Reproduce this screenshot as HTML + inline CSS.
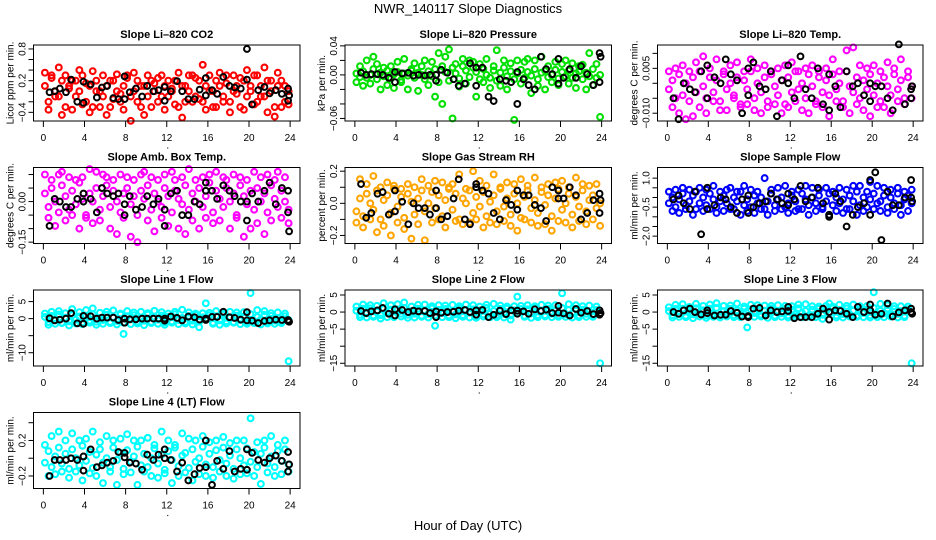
<!DOCTYPE html>
<html><head><meta charset="utf-8"><style>
html,body{margin:0;padding:0;background:#fff}
svg{display:block;font-family:"Liberation Sans",Arial,sans-serif}
</style></head><body>
<svg id="chart" width="936" height="540" viewBox="0 0 936 540">
<text x="468" y="13" text-anchor="middle" font-size="13">NWR_140117  Slope Diagnostics</text>
<text x="468" y="530" text-anchor="middle" font-size="13">Hour of Day (UTC)</text>
</svg>
<script>
const colorHours=[0.15,0.5,0.8,1.15,1.5,1.8,2.15,2.5,2.8,3.15,3.5,3.8,4.15,4.5,4.8,5.15,5.5,5.8,6.15,6.5,6.8,7.15,7.5,7.8,8.15,8.5,8.8,9.15,9.5,9.8,10.15,10.5,10.8,11.15,11.5,11.8,12.15,12.5,12.8,13.15,13.5,13.8,14.15,14.5,14.8,15.15,15.5,15.8,16.15,16.5,16.8,17.15,17.5,17.8,18.15,18.5,18.8,19.15,19.5,19.8,20.15,20.5,20.8,21.15,21.5,21.8,22.15,22.5,22.8,23.15,23.5,23.85];
const blackHours=[0.6,1.1,1.6,2.2,2.7,3.3,3.9,3.9,4.6,5.2,5.7,6.2,6.8,7.3,7.9,7.9,8.4,9.0,9.6,10.1,10.7,11.2,11.8,11.8,12.4,13.0,13.5,14.1,14.7,15.2,15.8,15.8,16.4,16.9,17.5,18.1,18.6,19.2,19.8,19.8,20.3,20.9,21.5,22.0,22.6,23.2,23.8,23.8,23.9];
const xTicks=[0,4,8,12,16,20,24];

const co2Band=[0.1,-0.2,0.3,0.0,-0.1,0.2,-0.3,0.1,0.2,-0.1,0.0,0.3,-0.2,0.1,-0.3,0.2,0.0,-0.1,0.1,-0.3,0.2,0.0,-0.2,0.1,0.3,-0.1,0.0,0.2,-0.3,0.1,-0.1,0.2,0.0,-0.2,0.3,0.1,-0.1,0.0,0.2,-0.3,0.1,-0.2,0.0,0.3,-0.1,0.2,-0.2,0.1,0.0,-0.3,0.2,0.1,-0.1,0.3,-0.2,0.0,0.1,-0.3,0.2,-0.1,0.0,0.3,-0.2,0.1,-0.1,0.2,0.0,-0.3,0.1,0.2,-0.2,0.0];
const co2Spread=[0.35,-0.35,0.25,-0.1,0.45,-0.45,0.3,0.05,-0.35,0.2,0.4,-0.25,0.15,-0.4,0.38,0.0,-0.3,0.3,-0.45,0.2,-0.15,0.32,-0.05,-0.35,0.25,-0.56,0.35,-0.2,0.1,-0.45,0.3,-0.3,0.15,0.25,-0.1,-0.35,0.2,0.05,-0.25,0.35,-0.5,0.1,0.3,-0.2,0.25,-0.15,0.5,-0.35,0.3,0.0,-0.3,0.35,-0.2,0.15,-0.4,0.3,-0.05,0.25,-0.35,0.4,0.1,-0.25,0.3,-0.1,0.45,-0.4,0.2,-0.48,0.35,-0.3,0.1,-0.25];
const co2Black=[-0.02,0.0,0.05,-0.02,0.22,-0.2,0.18,-0.22,0.13,-0.12,0.07,0.1,-0.13,-0.15,0.28,-0.15,-0.02,0.05,-0.1,0.1,0.0,0.02,0.08,-0.18,0.0,0.19,0.0,-0.15,-0.15,0.03,0.25,-0.08,0.02,-0.05,0.27,0.1,0.07,0.05,0.22,0.8,-0.25,0.02,0.08,-0.04,0.02,-0.05,0.05,-0.18,-0.08];

const presBand=[0.002,-0.003,0.005,-0.004,0.0,0.008,-0.006,0.003,-0.002,0.006,-0.005,0.001,0.004,-0.007,0.002,-0.001,0.006,-0.004,0.003,0.0,-0.006,0.005,-0.002,0.008,-0.01,0.012,0.004,-0.008,0.01,0.002,-0.005,0.012,0.006,-0.003,0.01,0.004,-0.006,0.008,0.0,-0.004,0.006,-0.008,0.003,0.01,-0.002,0.005,-0.006,0.002,0.007,-0.004,0.004,-0.001,0.008,-0.006,0.003,0.006,-0.003,0.0,0.007,-0.005,0.004,-0.002,0.006,-0.004,0.002,0.005,-0.006,0.003,-0.002,0.008,-0.004,0.0];
const presSpread=[-0.01,0.012,-0.015,0.02,-0.012,0.025,0.015,-0.02,0.01,-0.014,0.012,-0.018,0.018,-0.01,0.022,-0.02,0.008,0.016,-0.022,0.012,0.02,-0.014,0.018,-0.03,0.03,-0.04,0.025,0.035,-0.06,0.015,-0.016,0.022,-0.012,0.02,0.018,-0.03,0.015,-0.01,0.022,-0.018,0.012,0.034,-0.015,0.02,-0.02,0.016,-0.062,0.02,-0.012,0.018,0.022,-0.025,0.02,-0.015,0.025,-0.02,0.012,-0.01,0.018,-0.014,0.015,0.02,-0.012,0.016,-0.018,0.012,0.014,-0.02,0.03,-0.014,0.015,-0.058];
const presBlack=[0.003,0.0,0.001,0.001,0.0,-0.004,0.004,-0.01,0.002,0.003,-0.001,0.0,-0.001,0.0,0.0,-0.008,0.007,0.003,-0.006,-0.015,-0.012,0.016,0.01,-0.015,0.01,-0.03,-0.036,-0.006,-0.008,-0.01,0.004,-0.04,-0.006,-0.014,-0.02,0.025,0.008,0.001,0.022,-0.012,-0.004,0.008,-0.004,0.012,0.001,-0.014,0.03,-0.01,0.025];

const tempBand=[-0.002,0.001,-0.005,0.003,-0.004,0.0,-0.006,0.002,-0.003,0.004,-0.001,-0.005,0.002,-0.003,0.001,-0.006,0.003,-0.002,0.0,-0.004,0.002,-0.007,0.001,-0.002,0.004,-0.005,0.0,-0.003,0.002,-0.006,0.003,-0.001,-0.004,0.001,-0.007,0.002,-0.003,0.004,-0.002,0.0,-0.005,0.003,-0.001,-0.006,0.002,-0.003,0.001,-0.004,0.003,-0.002,0.0,-0.006,0.004,-0.001,-0.003,0.002,-0.005,0.001,-0.002,0.003,-0.004,0.0,-0.006,0.002,-0.001,-0.004,0.003,-0.002,0.001,-0.005,0.002,-0.001];
const tempSpread=[0.004,-0.008,0.005,-0.01,0.006,-0.012,0.004,-0.011,0.007,-0.008,0.009,-0.01,0.005,-0.006,0.008,-0.009,0.004,-0.009,0.006,-0.005,0.007,-0.008,0.004,-0.007,0.008,-0.009,0.005,-0.01,0.006,-0.008,0.004,-0.007,0.005,-0.01,0.006,-0.008,0.007,-0.006,0.004,-0.009,0.005,-0.01,0.006,-0.007,0.004,-0.008,0.005,-0.011,0.008,-0.006,0.004,-0.008,0.011,-0.01,0.012,-0.007,0.006,-0.009,0.005,-0.011,0.006,-0.008,0.004,-0.008,0.007,-0.01,0.005,-0.006,0.008,-0.007,0.004,-0.005];
const tempBlack=[-0.005,-0.012,0.0,-0.002,-0.003,0.004,0.006,-0.005,0.002,0.0,0.008,0.003,0.001,-0.01,-0.004,0.005,0.007,-0.001,-0.002,0.004,-0.011,0.001,0.0,0.006,-0.005,0.009,-0.002,-0.005,0.005,-0.007,0.003,-0.009,-0.001,-0.008,0.004,-0.001,0.0,-0.004,0.0,-0.006,-0.001,-0.001,-0.005,-0.009,0.013,-0.007,-0.002,-0.005,-0.001];

const ambBand=[0.03,-0.02,0.05,0.0,-0.04,0.06,0.02,-0.03,0.04,-0.01,0.07,0.01,-0.05,0.03,0.0,0.05,-0.03,0.02,0.06,-0.02,0.04,0.0,-0.04,0.03,0.05,-0.01,0.02,-0.05,0.04,0.01,0.06,-0.03,0.03,0.0,-0.02,0.05,0.02,-0.04,0.04,0.01,-0.01,0.06,-0.03,0.03,0.0,0.05,-0.02,0.02,0.07,-0.04,0.04,0.01,-0.02,0.05,0.0,0.03,-0.05,0.06,0.02,-0.01,0.04,-0.03,0.05,0.0,0.03,-0.04,0.06,0.01,-0.02,0.04,0.0,-0.03];
const ambSpread=[0.1,-0.06,0.08,-0.09,0.1,0.11,-0.07,0.09,-0.05,0.08,-0.1,0.09,-0.06,0.12,-0.08,0.11,-0.07,0.1,0.09,-0.1,0.08,-0.12,0.1,-0.06,0.09,-0.13,0.08,-0.15,0.1,0.11,-0.07,0.09,-0.11,0.08,-0.06,0.1,-0.09,0.11,0.08,-0.1,0.09,-0.12,0.12,-0.07,0.08,-0.1,0.09,-0.06,0.1,-0.08,0.11,-0.07,0.09,0.08,-0.1,0.1,-0.06,0.09,-0.13,0.08,-0.1,0.11,-0.08,0.09,-0.12,0.1,-0.07,0.08,0.11,-0.06,0.09,-0.08];
const ambBlack=[-0.09,0.01,0.0,-0.02,-0.02,0.01,0.03,0.0,0.01,-0.04,0.05,0.03,0.02,0.03,-0.01,-0.05,0.02,-0.03,-0.02,0.02,-0.01,0.01,-0.03,-0.09,0.03,0.04,-0.05,-0.05,0.0,-0.01,0.04,0.07,0.04,0.01,0.06,0.04,0.02,0.0,0.0,-0.07,0.03,0.0,0.04,0.07,-0.01,0.05,0.04,-0.04,-0.11];

const rhBand=[-0.05,0.03,-0.08,0.06,0.0,-0.04,0.08,-0.1,0.02,0.05,-0.06,0.09,-0.02,0.04,-0.09,0.06,0.01,-0.07,0.03,0.08,-0.05,0.0,0.07,-0.03,0.05,-0.08,0.02,0.09,-0.04,0.06,-0.1,0.03,0.0,0.08,-0.06,0.04,-0.02,0.07,-0.08,0.01,0.05,-0.05,0.09,-0.02,0.03,-0.07,0.06,0.0,-0.09,0.04,0.08,-0.03,0.02,-0.06,0.07,-0.01,0.05,-0.08,0.03,0.09,-0.04,0.0,0.06,-0.07,0.04,-0.02,0.08,-0.05,0.02,0.05,-0.03,0.0];
const rhSpread=[-0.12,0.15,-0.15,0.12,-0.1,0.17,-0.18,0.1,-0.14,0.13,-0.2,0.11,-0.12,0.09,-0.16,0.12,-0.22,0.1,-0.13,0.15,-0.23,0.11,-0.12,0.14,-0.1,0.13,-0.15,0.1,0.12,-0.11,0.18,-0.13,0.09,-0.12,0.2,-0.1,0.14,-0.15,0.11,-0.12,0.18,-0.13,0.1,-0.11,0.13,-0.14,0.12,-0.17,0.15,-0.1,0.11,-0.12,0.16,-0.14,0.1,-0.13,0.12,-0.17,0.13,-0.11,0.14,-0.12,0.1,-0.15,0.16,-0.11,0.12,-0.13,0.11,-0.1,0.12,-0.14];
const rhBlack=[0.12,-0.09,-0.06,0.06,0.07,-0.07,0.08,-0.05,0.01,-0.13,0.0,-0.03,-0.03,-0.07,0.08,-0.03,-0.1,-0.08,0.03,0.15,-0.1,-0.13,0.1,0.12,0.08,0.06,-0.06,-0.1,0.02,-0.01,0.08,-0.04,0.05,0.05,-0.01,-0.03,-0.11,0.1,0.08,0.03,0.03,0.1,0.05,-0.1,-0.06,0.02,0.06,-0.06,0.02];

const flowBand=[-0.3,0.0,-0.5,-0.1,0.2,-0.4,-0.2,0.1,-0.6,-0.3,0.0,-0.4,0.2,-0.1,-0.5,-0.2,0.1,-0.3,-0.6,0.0,-0.2,0.3,-0.4,-0.1,-0.5,0.1,-0.3,0.0,-0.6,-0.2,0.2,-0.4,-0.1,0.0,-0.5,-0.3,0.1,-0.2,-0.6,0.2,-0.1,-0.4,0.0,-0.3,0.1,-0.5,-0.2,0.2,-0.4,0.0,-0.3,-0.1,-0.6,0.1,-0.2,0.3,-0.4,0.0,-0.5,-0.1,0.2,-0.3,-0.2,0.1,-0.5,0.0,-0.3,0.2,-0.4,-0.1,0.1,-0.3];
const flowSpread=[0.3,-0.7,0.4,-0.8,0.5,-0.6,0.4,-0.9,0.3,0.5,-0.7,0.4,-0.6,0.6,-0.8,0.3,-0.7,0.4,0.5,-0.6,0.3,-0.9,0.6,-0.7,0.4,-0.8,0.3,-0.6,1.0,-0.9,0.4,-0.7,0.5,-0.6,0.6,-0.8,0.3,-0.7,0.4,-0.6,0.6,-0.9,0.5,-0.7,0.4,-0.6,0.5,-0.9,0.3,-0.7,0.5,-0.8,0.4,-0.6,0.6,-0.9,0.6,-0.7,0.3,0.8,-0.6,0.6,-0.7,0.5,-0.8,0.4,-0.6,0.5,-0.9,0.3,-0.7,0.4];
const flowBlack=[-0.1,0.1,-0.3,-0.6,0.3,-1.9,-0.6,0.5,-0.4,0.0,-0.1,-0.5,-0.8,-0.1,0.1,-0.8,-0.5,-0.3,-0.2,0.2,-0.1,-0.3,-0.4,0.2,-0.1,0.6,-0.2,0.0,0.5,-0.3,-0.9,-1.0,0.2,-0.2,-1.5,-0.9,-0.5,-0.3,-0.9,0.9,1.3,-2.2,0.3,-0.4,-0.4,0.0,0.9,0.0,-0.2];

const line1Band=[0.5,-1.0,0.8,-0.5,1.2,-1.2,0.3,-0.8,1.0,-0.3,0.6,-1.1,0.9,-0.6,1.3,-0.9,0.2,-0.4,1.1,-1.0,0.4,-0.7,1.2,-1.2,0.7,-0.2,1.0,-0.9,0.3,-0.6,1.2,-1.0,0.5,-0.3,0.9,-1.1,0.6,-0.8,1.3,-0.4,0.2,-1.0,0.8,-0.6,1.1,-0.9,0.4,-0.2,1.0,-1.2,0.7,-0.5,1.2,-0.8,0.3,-1.0,0.9,-0.4,0.6,-1.1,1.3,-0.7,0.5,-0.3,1.1,-0.9,0.8,-0.6,0.2,-1.0,0.7,-0.4];
const line1Spread=[1.5,-1.8,2.0,-1.5,2.2,-1.3,1.6,-2.0,2.8,-1.4,1.9,-1.6,2.5,-1.2,3.0,-1.8,1.7,-1.5,2.0,-1.3,2.4,-1.7,1.5,-4.5,2.2,-1.6,1.8,-1.4,2.0,-1.9,1.6,-1.3,2.3,-1.5,1.9,-1.8,1.5,-1.2,2.0,-1.6,2.6,-1.4,1.8,-1.7,1.5,-2.5,1.6,4.5,1.7,-1.5,2.2,-1.8,1.6,-1.4,2.0,-1.2,1.8,-1.6,1.9,-1.5,7.5,-1.3,2.5,-1.7,2.2,-1.4,1.6,-1.5,1.8,-1.3,1.5,-12.5];
const line1Black=[0.1,-0.5,-0.3,0.0,1.6,-1.4,0.8,-1.5,0.7,0.0,0.3,0.3,0.3,-0.4,0.0,-1.2,-0.2,-0.2,0.0,0.0,0.0,0.0,0.0,-0.6,0.6,0.2,-0.5,0.6,0.4,-0.3,0.0,-0.4,0.5,0.5,2.0,0.4,0.2,-0.3,-0.5,1.9,-0.6,-1.3,-0.7,-0.5,-0.3,-0.4,-0.4,-0.7,-0.9];

const line2Band=[0.4,-0.8,1.0,-0.4,1.1,-1.0,0.2,-0.9,0.9,-0.2,0.7,-1.2,0.8,-0.5,1.2,-0.8,0.3,-0.5,1.0,-1.1,0.5,-0.6,1.1,-1.0,0.6,-0.3,0.9,-1.0,0.4,-0.7,1.1,-0.9,0.6,-0.2,0.8,-1.2,0.5,-0.7,1.2,-0.5,0.3,-0.9,0.9,-0.5,1.0,-1.0,0.5,-0.3,0.9,-1.1,0.8,-0.4,1.1,-0.9,0.4,-0.9,1.0,-0.5,0.5,-1.0,1.2,-0.6,0.6,-0.4,1.0,-1.0,0.7,-0.5,0.3,-0.9,0.6,-0.5];
const line2Spread=[1.6,-1.5,2.2,-1.6,2.0,-1.4,1.8,-1.9,2.6,-1.5,2.0,-1.5,2.3,-1.3,2.8,-1.7,1.6,-1.6,2.1,-1.4,2.2,-1.6,1.7,-4.0,2.0,-1.5,1.9,-1.5,2.1,-1.8,1.7,-1.4,2.2,-1.6,2.0,-1.7,1.6,-1.3,2.1,-1.5,2.4,-1.5,1.9,-1.6,1.6,-2.2,1.7,4.5,1.8,-1.4,2.0,-1.7,1.7,-1.5,2.1,-1.3,1.9,-1.5,2.0,-1.4,5.5,-1.4,2.3,-1.6,2.0,-1.5,1.7,-1.4,1.9,-1.4,1.6,-15.0];
const line2Black=[0.3,-0.3,0.2,0.5,1.2,-0.5,0.8,-1.0,0.6,0.0,0.4,0.2,0.3,-0.3,0.2,-1.5,-0.2,0.0,0.1,0.4,0.6,0.0,0.5,-0.8,0.6,-1.5,-0.8,0.4,-0.6,0.5,0.4,-0.5,0.2,-0.5,0.8,0.3,0.7,-0.3,-0.2,1.8,-0.4,-1.0,0.9,-0.2,0.3,-0.6,0.5,-0.8,-0.3];

const line3Band=[0.3,-0.9,0.9,-0.6,1.0,-1.1,0.4,-0.7,1.1,-0.4,0.5,-1.0,1.0,-0.5,1.2,-1.0,0.3,-0.3,1.0,-0.9,0.5,-0.8,1.0,-1.1,0.8,-0.3,0.9,-0.8,0.4,-0.5,1.1,-1.1,0.4,-0.4,1.0,-1.0,0.7,-0.7,1.1,-0.3,0.3,-1.1,0.7,-0.7,1.0,-0.8,0.3,-0.3,1.1,-1.0,0.6,-0.6,1.1,-0.7,0.4,-1.1,0.8,-0.3,0.7,-1.0,1.2,-0.8,0.4,-0.4,1.0,-0.8,0.9,-0.5,0.3,-1.1,0.8,-0.3];
const line3Spread=[1.4,-1.6,2.1,-1.4,2.3,-1.5,1.5,-1.8,2.4,-1.3,1.8,-1.7,2.2,-1.4,2.6,-1.6,1.8,-1.3,1.9,-1.5,2.5,-1.5,1.6,-4.5,2.1,-1.4,2.0,-1.3,1.9,-1.7,1.8,-1.5,2.0,-1.4,1.8,-1.6,1.7,-1.4,2.2,-1.5,2.3,-1.3,1.7,-1.5,1.6,-2.0,1.8,2.5,1.6,-1.6,2.1,-1.6,1.8,-1.3,2.2,-1.4,1.7,-1.5,1.8,-1.6,5.8,-1.5,2.4,-1.5,2.0,-1.3,1.7,-1.6,1.7,-1.5,1.6,-15.0];
const line3Black=[0.0,-0.5,0.5,1.0,0.0,-0.7,-0.3,0.5,-1.0,-0.8,-0.8,0.3,-0.2,-1.3,-1.5,-1.2,1.0,1.2,-1.0,0.5,0.0,0.2,0.3,1.5,-1.8,-1.5,-1.5,-1.5,-0.5,1.0,0.0,-2.2,0.5,0.3,-0.5,-1.5,1.5,0.0,0.5,2.2,-0.8,-0.5,2.5,-1.3,-0.1,0.5,0.0,1.0,-0.5];

const line4Band=[-0.05,0.08,-0.1,0.02,0.12,-0.06,0.05,-0.12,0.1,0.0,-0.08,0.14,-0.03,0.07,-0.11,0.04,0.1,-0.05,0.0,-0.1,0.12,-0.02,0.06,-0.12,0.09,-0.04,0.02,0.13,-0.08,0.05,-0.1,0.0,0.11,-0.06,0.04,-0.13,0.08,-0.02,0.12,-0.09,0.03,0.06,-0.11,0.1,-0.04,0.0,0.13,-0.07,0.05,-0.1,0.09,-0.02,0.12,-0.06,0.03,-0.12,0.1,0.0,-0.08,0.11,-0.04,0.07,-0.1,0.05,0.12,-0.06,0.02,-0.1,0.08,-0.03,0.1,-0.07];
const line4Spread=[0.15,-0.2,0.25,-0.18,0.3,-0.15,0.2,-0.22,0.28,-0.15,0.2,-0.25,0.22,-0.17,0.3,-0.2,0.18,-0.28,0.25,-0.15,0.2,-0.3,0.22,-0.18,0.27,-0.16,0.2,-0.3,0.2,-0.15,0.23,-0.2,0.15,-0.22,0.3,-0.17,0.2,-0.28,0.15,-0.2,0.28,-0.16,0.22,-0.25,0.2,-0.18,0.25,-0.2,0.18,-0.22,0.2,-0.15,0.24,-0.2,0.17,-0.23,0.2,-0.18,0.2,-0.17,0.45,-0.2,0.18,-0.29,0.2,-0.16,0.25,-0.2,0.15,-0.18,0.2,-0.15];
const line4Black=[-0.2,-0.02,-0.02,-0.02,0.0,-0.02,0.02,-0.14,0.1,-0.1,-0.08,-0.05,-0.03,0.07,0.01,0.06,-0.05,-0.06,-0.13,0.04,-0.02,0.04,0.0,0.1,-0.02,-0.15,-0.05,-0.25,-0.18,-0.11,0.2,-0.1,-0.3,-0.03,-0.12,0.08,-0.15,-0.12,0.1,-0.13,0.06,-0.02,-0.05,0.0,0.03,-0.03,0.07,-0.15,-0.07];

const panels=[
 {name:'co2',title:'Slope Li-820 CO2',ylab:'Licor ppm per min.',col:0,row:0,color:'#ff0000',ymin:-0.564,ymax:0.875,ticks:[-0.4,-0.2,0,0.2,0.4,0.6,0.8],labels:[-0.4,0.2,0.8],fmt:1,band:co2Band,spread:co2Spread,black:co2Black},
 {name:'pressure',title:'Slope Li-820 Pressure',ylab:'kPa per min.',col:1,row:0,color:'#00e000',ymin:-0.0635,ymax:0.0412,ticks:[-0.06,-0.04,-0.02,0,0.02,0.04],labels:[-0.06,0,0.04],fmt:2,band:presBand,spread:presSpread,black:presBlack},
 {name:'licor-temp',title:'Slope Li-820 Temp.',ylab:'degrees C per min.',col:2,row:0,color:'#ff00ff',ymin:-0.0126,ymax:0.0128,ticks:[-0.01,-0.005,0,0.005,0.01],labels:[-0.01,0.005],fmt:3,band:tempBand,spread:tempSpread,black:tempBlack},
 {name:'amb-box-temp',title:'Slope Amb. Box Temp.',ylab:'degrees C per min.',col:0,row:1,color:'#ff00ff',ymin:-0.155,ymax:0.126,ticks:[-0.15,-0.1,-0.05,0,0.05,0.1],labels:[-0.15,0],fmt:2,band:ambBand,spread:ambSpread,black:ambBlack},
 {name:'gas-stream-rh',title:'Slope Gas Stream RH',ylab:'percent per min.',col:1,row:1,color:'#ffa500',ymin:-0.25,ymax:0.223,ticks:[-0.2,-0.1,0,0.1,0.2],labels:[-0.2,0,0.2],fmt:1,band:rhBand,spread:rhSpread,black:rhBlack},
 {name:'sample-flow',title:'Slope Sample Flow',ylab:'ml/min per min.',col:2,row:1,color:'#0000ff',ymin:-2.38,ymax:1.55,ticks:[-2,-1.5,-1,-0.5,0,0.5,1],labels:[-2,-0.5,1],fmt:1,band:flowBand,spread:flowSpread,black:flowBlack},
 {name:'line1-flow',title:'Slope Line 1 Flow',ylab:'ml/min per min.',col:0,row:2,color:'#00ffff',ymin:-13.9,ymax:8.4,ticks:[-10,-5,0,5],labels:[-10,0,5],fmt:0,band:line1Band,spread:line1Spread,black:line1Black},
 {name:'line2-flow',title:'Slope Line 2 Flow',ylab:'ml/min per min.',col:1,row:2,color:'#00ffff',ymin:-15.8,ymax:6.46,ticks:[-15,-10,-5,0,5],labels:[-15,-5,0,5],fmt:0,band:line2Band,spread:line2Spread,black:line2Black},
 {name:'line3-flow',title:'Slope Line 3 Flow',ylab:'ml/min per min.',col:2,row:2,color:'#00ffff',ymin:-15.8,ymax:6.46,ticks:[-15,-10,-5,0,5],labels:[-15,-5,0,5],fmt:0,band:line3Band,spread:line3Spread,black:line3Black},
 {name:'line4-flow',title:'Slope Line 4 (LT) Flow',ylab:'ml/min per min.',col:0,row:3,color:'#00ffff',ymin:-0.341,ymax:0.515,ticks:[-0.2,0,0.2,0.4],labels:[-0.2,0.2],fmt:1,band:line4Band,spread:line4Spread,black:line4Black}
];

const colLeft=[33.5,345,657.5], colRight=[300,611.5,923];
const rowTop=[45,167.5,290,412.5], boxH=76;
const NS='http://www.w3.org/2000/svg';
const svg=document.getElementById('chart');
function mk(tag,attrs,parent){const e=document.createElementNS(NS,tag);for(const k in attrs)e.setAttribute(k,attrs[k]);(parent||svg).appendChild(e);return e;}

panels.forEach(p=>{
  const L=colLeft[p.col],R=colRight[p.col],T=rowTop[p.row],B=T+boxH;
  const xs=h=>L+(h+0.96)/25.92*(R-L);
  const ys=v=>B-(v-p.ymin)/(p.ymax-p.ymin)*(B-T);
  const g=mk('g',{});
  
  
  const t=mk('text',{x:(L+R)/2,y:T-7,'text-anchor':'middle','font-size':11,'font-weight':'bold'},g);
  t.textContent=p.title.replace(/-/g,'\u2013');
  
  
  const yl=mk('text',{x:0,y:0,'text-anchor':'middle','font-size':10,transform:`translate(${L-20},${(T+B)/2}) rotate(-90)`},g);
  yl.textContent=p.ylab;
  
  
  const xa=mk('g',{},g);
  
  
  xTicks.forEach(h=>{
    const x=xs(h);
    mk('line',{x1:x,x2:x,y1:B,y2:B+6,stroke:'#000','stroke-width':1},xa);
    const tl=mk('text',{x:x,y:B+20,'text-anchor':'middle','font-size':10},xa);
    tl.textContent=h;
    
    
  });
  mk('circle',{cx:xs(12)+1,cy:B+27,r:0.6,fill:'#000'},xa);
  const ya=mk('g',{},g);
  
  
  p.ticks.forEach(v=>{
    const y=ys(v);
    mk('line',{x1:L-5,x2:L,y1:y,y2:y,stroke:'#000','stroke-width':1},ya);
  });
  p.labels.forEach(v=>{
    const y=ys(v);
    const tl=mk('text',{x:0,y:0,'text-anchor':'middle','font-size':10,transform:`translate(${L-8},${y}) rotate(-90)`},ya);
    tl.textContent=(v<0?'\u2212':'')+Math.abs(v).toFixed(p.fmt);
    
    
  });
  const pts=mk('g',{fill:'none',stroke:p.color,'stroke-width':2.1},g);
  
  
  [p.spread,p.band].forEach(arr=>{
    arr.forEach((v,i)=>{
      const c=mk('circle',{cx:xs(colorHours[i]),cy:ys(v),r:2.9},pts);
      
      
    });
  });
  const bp=mk('g',{fill:'none',stroke:'#000','stroke-width':2},g);
  
  
  p.black.forEach((v,i)=>{
    const c=mk('circle',{cx:xs(blackHours[i]),cy:ys(v),r:2.9},bp);
    
    
  });
  const box=mk('rect',{x:L,y:T,width:R-L,height:B-T,fill:'none',stroke:'#000','stroke-width':1},g);
  
  
});
</script>
</body></html>
